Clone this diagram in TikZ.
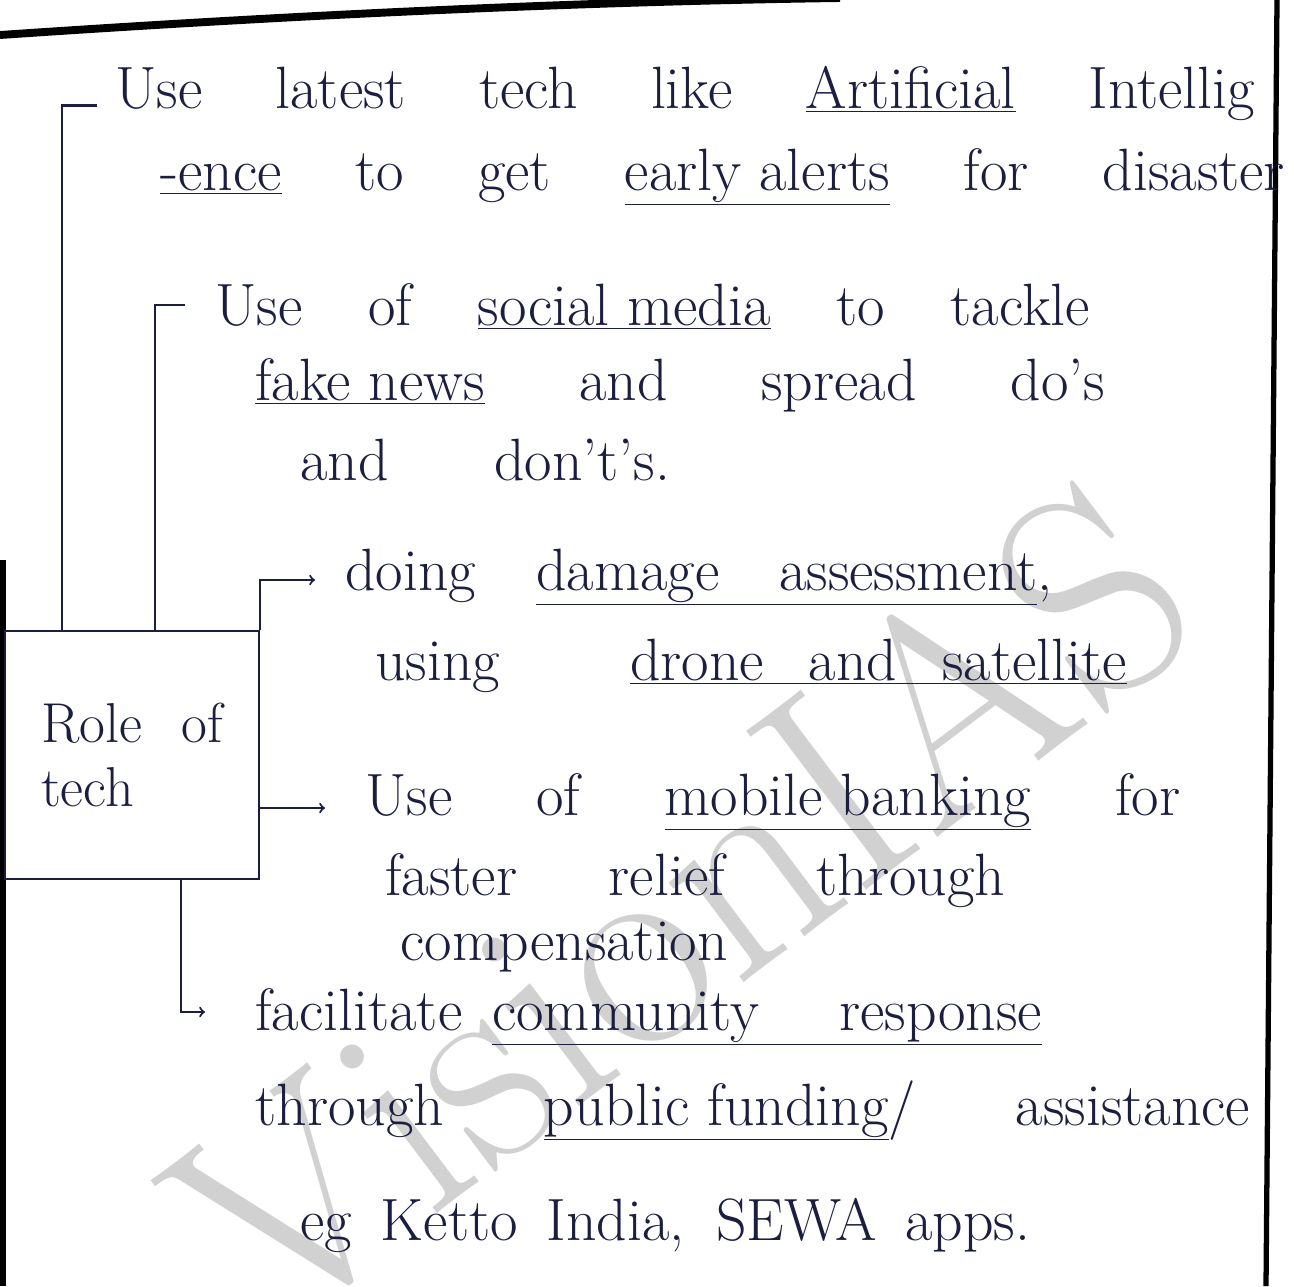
\documentclass[tikz,border=0pt]{standalone}
\usetikzlibrary{positioning}
\definecolor{ink}{RGB}{28,30,64}
\begin{document}
\begin{tikzpicture}[x=0.02cm, y=-0.02cm,
	hw/.style={anchor=base west, inner sep=0pt, text=ink,
		font=\fontsize{34}{40}\selectfont},
	conn/.style={line width=1.2pt, draw=ink},
	arr/.style={conn, ->},
	page edge/.style={line width=3pt}]
\useasboundingbox (0,0) rectangle (1294,1286);
% watermark
\node[rotate=37, text=black!18, font=\fontsize{166}{166}\selectfont] (wm) at (680,905) {VisionIAS};
% page edges
\draw[page edge, line width=4.5pt] (0,35) .. controls (250,18) and (550,2) .. (840,-2);
\draw[page edge] (1277,0) -- (1266,1286);
\draw[page edge] (3,560) -- (3,1286);
% box
\node[draw=ink, line width=1.2pt, anchor=north west, minimum width=5.08cm,
	minimum height=4.96cm, text width=3.64cm, inner xsep=0.72cm, align=left,
	text=ink, font=\fontsize{32}{36}\selectfont] (role) at (4,630) {Role\hfill of\\tech};
% items
\node[hw] (a1) at (115,108) {\makebox[22.8cm][s]{Use latest tech like \underline{Artificial} Intellig}};
\node[hw] (a2) at (160,190) {\makebox[22.5cm][s]{\underline{-ence} to get \underline{early alerts} for disaster}};
\node[hw] (b1) at (215,325) {\makebox[17.5cm][s]{Use of \underline{social media} to tackle}};
\node[hw] (b2) at (255,400) {\makebox[17cm][s]{\underline{fake news} and spread do's}};
\node[hw] (b3) at (300,480) {\makebox[7.4cm][s]{and don't's.}};
\node[hw] (c1) at (345,590) {doing\hspace{1.2cm}\underline{damage\hspace{1.2cm}assessment},};
\node[hw] (c2) at (375,680) {using\hspace{2.6cm}\underline{drone\hspace{0.9cm}and\hspace{0.9cm}satellite}};
\node[hw] (d1) at (365,815) {\makebox[16.3cm][s]{Use of \underline{mobile banking} for}};
\node[hw] (d2) at (385,895) {\makebox[12.4cm][s]{faster relief through}};
\node[hw] (d3) at (400,960) {compensation};
\node[hw] (e1) at (255,1030) {facilitate\hspace{0.6cm}\underline{community\hspace{1.6cm}response}};
\node[hw] (e2) at (255,1125) {\makebox[19.9cm][s]{through \underline{public funding}/ assistance}};
\node[hw] (e3) at (300,1240) {\makebox[14.6cm][s]{eg Ketto India, SEWA apps.}};
% connectors
\draw[conn] ([xshift=-0.36cm,yshift=0.05cm]a1.base west) -| ([xshift=1.16cm]role.north west);
\draw[conn] ([xshift=-0.6cm,yshift=0.4cm]b1.base west) -| ([xshift=3.02cm]role.north west);
\draw[arr] (role.north east) |- ([xshift=-0.6cm,yshift=0.2cm]c1.base west);
\coordinate (dtip) at ([xshift=-0.8cm,yshift=0.14cm]d1.base west);
\draw[arr] (role.east |- dtip) -- (dtip);
\draw[arr] ([xshift=0.98cm]role.south) |- ([xshift=-1cm,yshift=0.36cm]e1.base west);
\end{tikzpicture}
\end{document}
